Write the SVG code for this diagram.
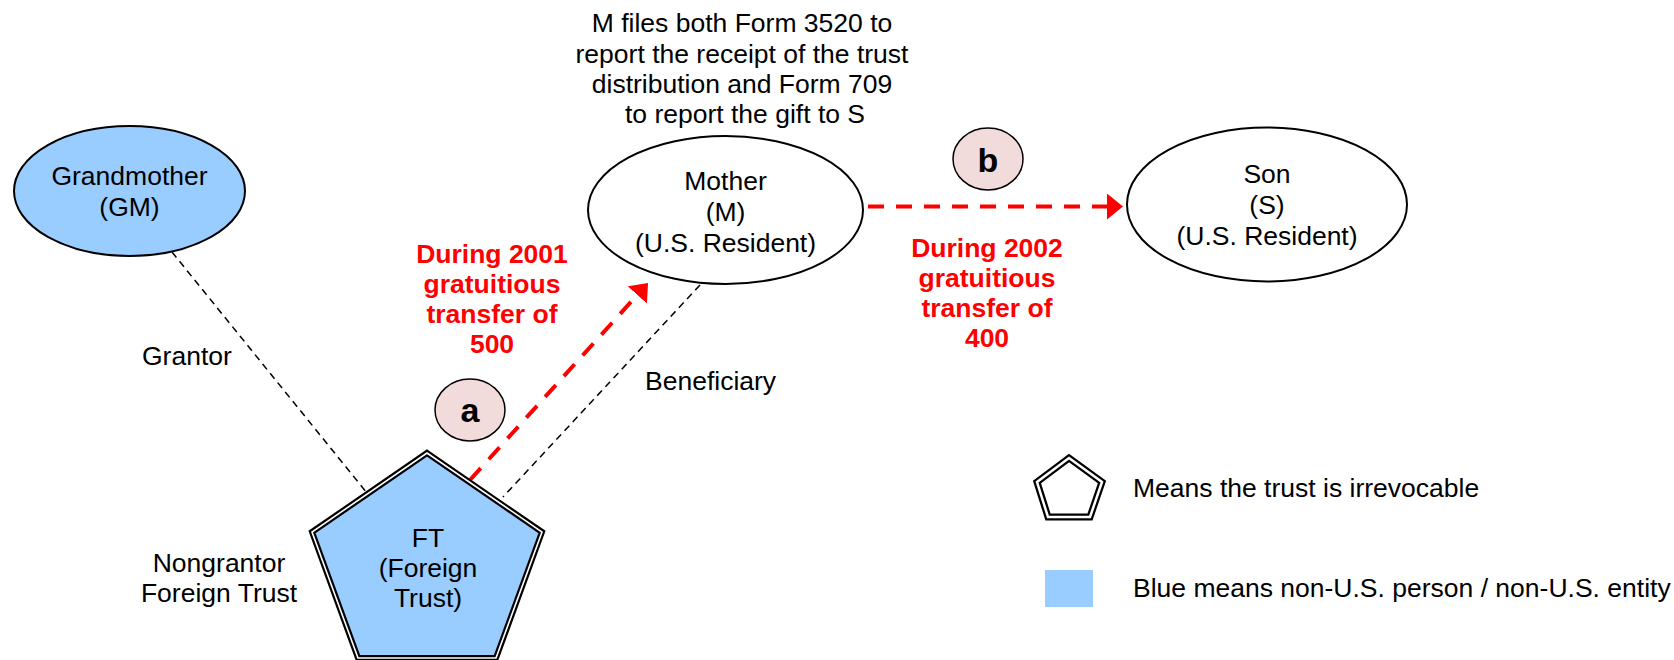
<svg xmlns="http://www.w3.org/2000/svg" width="1674" height="660" viewBox="0 0 1674 660">
<style>
text{font-family:"Liberation Sans",Arial,sans-serif;font-size:26.5px;fill:#000}
.c{text-anchor:middle}
.red{fill:#FF0000;font-weight:bold}
.lbl{font-weight:bold;font-size:34px;text-anchor:middle}
.ell{stroke:#000;stroke-width:2}
.badge{fill:#F2DCDB;stroke:#000;stroke-width:1.5}
.bl{stroke:#000;stroke-width:1.5;stroke-dasharray:7 5;fill:none}
.rd{stroke:#FF0000;stroke-width:4;stroke-dasharray:16 12;fill:none}
</style>
<defs>
<marker id="ah" markerUnits="userSpaceOnUse" markerWidth="18" markerHeight="28" refX="0" refY="13" orient="auto">
<path d="M0,0 L16,13 L0,26 Z" fill="#FF0000"/>
</marker>
</defs>
<rect width="1674" height="660" fill="#fff"/>

<g id="connectors">
<line class="bl" x1="172" y1="252" x2="367" y2="493"/>
<line class="bl" x1="700" y1="285" x2="503" y2="497"/>
<line class="rd" x1="470" y1="480" x2="637.3" y2="294.9" marker-end="url(#ah)"/>
<line class="rd" x1="868" y1="206.5" x2="1107" y2="206.5" marker-end="url(#ah)"/>
</g>

<g id="grandmother">
<ellipse class="ell" cx="129.5" cy="191" rx="115.5" ry="65" fill="#99CCFF"/>
<text class="c" x="129.5" y="185">Grandmother</text>
<text class="c" x="129.5" y="216">(GM)</text>
</g>

<g id="mother">
<ellipse class="ell" cx="725.5" cy="210" rx="137.5" ry="74" fill="#fff"/>
<text class="c" x="725.5" y="190">Mother</text>
<text class="c" x="725.5" y="221">(M)</text>
<text class="c" x="725.5" y="252">(U.S. Resident)</text>
</g>

<g id="son">
<ellipse class="ell" cx="1267" cy="204.5" rx="140" ry="77" fill="#fff"/>
<text class="c" x="1267" y="183">Son</text>
<text class="c" x="1267" y="214">(S)</text>
<text class="c" x="1267" y="245">(U.S. Resident)</text>
</g>

<g id="ft">
<polygon points="427,453 542,532 496,658 358,658 312,532" fill="#99CCFF" stroke="#000" stroke-width="6" stroke-linejoin="miter"/>
<polygon points="427,453 542,532 496,658 358,658 312,532" fill="none" stroke="#fff" stroke-width="1.6"/>
<text class="c" x="428" y="547">FT</text>
<text class="c" x="428" y="577">(Foreign</text>
<text class="c" x="428" y="607">Trust)</text>
</g>

<g id="badge-a">
<ellipse class="badge" cx="470" cy="410" rx="35" ry="31"/>
<text class="lbl" x="470" y="422">a</text>
</g>

<g id="badge-b">
<ellipse class="badge" cx="988" cy="159" rx="35" ry="31"/>
<text class="lbl" x="988" y="172">b</text>
</g>

<g id="note">
<text class="c" x="742" y="32">M files both Form 3520 to</text>
<text class="c" x="742" y="63">report the receipt of the trust</text>
<text class="c" x="742" y="93">distribution and Form 709</text>
<text class="c" x="745" y="123">to report the gift to S</text>
</g>

<g id="transfer-a">
<text class="c red" x="492" y="263">During 2001</text>
<text class="c red" x="492" y="293">gratuitious</text>
<text class="c red" x="492" y="323">transfer of</text>
<text class="c red" x="492" y="353">500</text>
</g>

<g id="transfer-b">
<text class="c red" x="987" y="257">During 2002</text>
<text class="c red" x="987" y="287">gratuitious</text>
<text class="c red" x="987" y="317">transfer of</text>
<text class="c red" x="987" y="347">400</text>
</g>

<g id="labels">
<text x="142" y="365">Grantor</text>
<text x="645" y="390">Beneficiary</text>
<text class="c" x="219" y="572">Nongrantor</text>
<text class="c" x="219" y="602">Foreign Trust</text>
</g>

<g id="legend">
<polygon points="1069,458 1102,482 1090,517 1048,517 1037,482" fill="none" stroke="#000" stroke-width="7"/>
<polygon points="1069,458 1102,482 1090,517 1048,517 1037,482" fill="none" stroke="#fff" stroke-width="2.5"/>
<text x="1133" y="497">Means the trust is irrevocable</text>
<rect x="1045" y="570" width="48" height="37" fill="#99CCFF"/>
<text x="1133" y="597">Blue means non-U.S. person / non-U.S. entity</text>
</g>
</svg>
